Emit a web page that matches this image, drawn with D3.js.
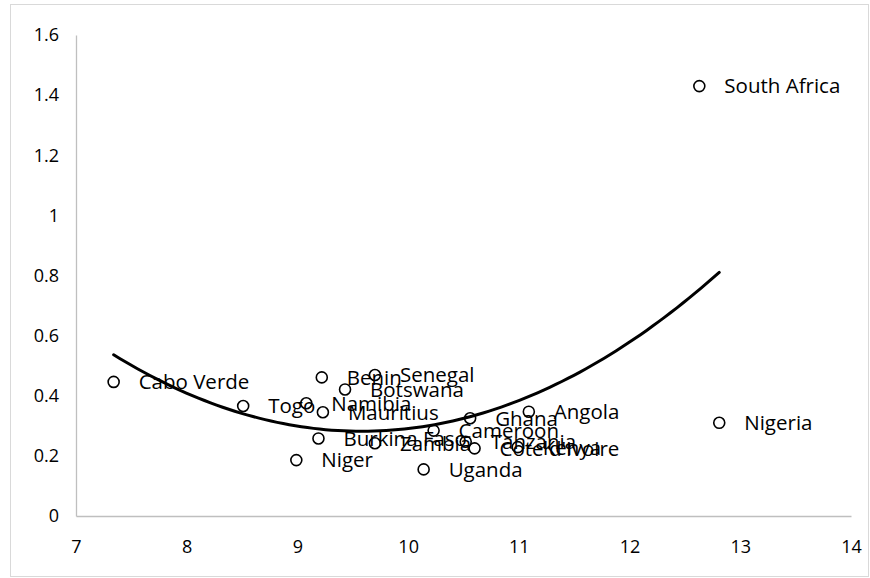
<!DOCTYPE html>
<html>
<head>
<meta charset="utf-8">
<script src="https://cdn.jsdelivr.net/npm/d3@7"></script>
<style>
  html, body { margin: 0; padding: 0; background: #fff; }
  svg { display: block; }
</style>
</head>
<body>
<svg id="chart" width="870" height="578"></svg>
<script>
const countries = ["Cabo Verde","Togo","Namibia","Mauritius","Benin","Senegal","Botswana","Burkina Faso","Zambia","Niger","Uganda","Cameroon","Ghana","Angola","Tanzania","Cote d'Ivoire","Kenya","South Africa","Nigeria"];
const xValues = [7.34, 8.51, 9.08, 9.23, 9.22, 9.70, 9.43, 9.19, 9.70, 8.99, 10.14, 10.23, 10.56, 11.09, 10.52, 10.60, 10.99, 12.63, 12.81];
const yValues = [0.446, 0.366, 0.375, 0.345, 0.461, 0.469, 0.421, 0.258, 0.242, 0.186, 0.155, 0.284, 0.325, 0.347, 0.247, 0.225, 0.229, 1.43, 0.31];
const xTicks = [7, 8, 9, 10, 11, 12, 13, 14];
const yTicks = [0, 0.2, 0.4, 0.6, 0.8, 1, 1.2, 1.4, 1.6];

const svg = d3.select("#chart");
const W = 870, H = 578;
const m = { left: 76, right: 19, top: 35, bottom: 62 };

svg.append("rect").attr("x", 10.5).attr("y", 4.5).attr("width", 858).attr("height", 572)
  .attr("fill", "none").attr("stroke", "#d9d9d9").attr("stroke-width", 1);

const x = d3.scaleLinear().domain([7, 14]).range([m.left, W - m.right]);
const y = d3.scaleLinear().domain([0, 1.6]).range([H - m.bottom, m.top]);

const font = "'Open Sans', 'Noto Sans', sans-serif";

// axes
const xAxis = svg.append("g").attr("transform", `translate(0,${y(0)})`)
  .call(d3.axisBottom(x).tickValues(xTicks).tickSize(0).tickPadding(24).tickFormat(d3.format("d")));
const yAxis = svg.append("g").attr("transform", `translate(${x(7)},0)`)
  .call(d3.axisLeft(y).tickValues(yTicks).tickSize(0).tickPadding(17).tickFormat(d => String(d)));
[xAxis, yAxis].forEach(g => {
  g.select(".domain").attr("stroke", "#bfbfbf").attr("stroke-width", 1.3);
  g.selectAll("text").attr("font-family", font).attr("font-size", 18).attr("fill", "#000");
});

// quadratic least-squares trendline
const data = countries.map((c, i) => ({ name: c, x: xValues[i], y: yValues[i] }));
function quadFit(pts) {
  let S = Array(5).fill(0), T = Array(3).fill(0);
  pts.forEach(p => {
    for (let k = 0; k < 5; k++) S[k] += Math.pow(p.x, k);
    for (let k = 0; k < 3; k++) T[k] += p.y * Math.pow(p.x, k);
  });
  const A = [[S[0], S[1], S[2], T[0]], [S[1], S[2], S[3], T[1]], [S[2], S[3], S[4], T[2]]];
  for (let i = 0; i < 3; i++) {
    for (let j = i + 1; j < 3; j++) {
      const f = A[j][i] / A[i][i];
      for (let k = i; k < 4; k++) A[j][k] -= f * A[i][k];
    }
  }
  const c = [0, 0, 0];
  for (let i = 2; i >= 0; i--) {
    let s = A[i][3];
    for (let k = i + 1; k < 3; k++) s -= A[i][k] * c[k];
    c[i] = s / A[i][i];
  }
  return c;
}
const coef = quadFit(data);
const xmin = d3.min(xValues), xmax = d3.max(xValues);
const curvePts = d3.range(0, 101).map(i => {
  const xv = xmin + (xmax - xmin) * i / 100;
  return [xv, coef[0] + coef[1] * xv + coef[2] * xv * xv];
});
svg.append("path").datum(curvePts)
  .attr("d", d3.line().x(d => x(d[0])).y(d => y(d[1])).curve(d3.curveLinear))
  .attr("fill", "none").attr("stroke", "#000").attr("stroke-width", 3).attr("stroke-linecap", "round");

// markers
svg.append("g").selectAll("circle").data(data).join("circle")
  .attr("cx", d => x(d.x)).attr("cy", d => y(d.y)).attr("r", 5.5)
  .attr("fill", "none").attr("stroke", "#000").attr("stroke-width", 1.6);

// labels
svg.append("g").selectAll("text").data(data).join("text")
  .attr("x", d => x(d.x) + 25).attr("y", d => y(d.y))
  .attr("dy", "0.36em")
  .attr("font-family", font).attr("font-size", 20.5).attr("fill", "#000")
  .text(d => d.name);
</script>
</body>
</html>
